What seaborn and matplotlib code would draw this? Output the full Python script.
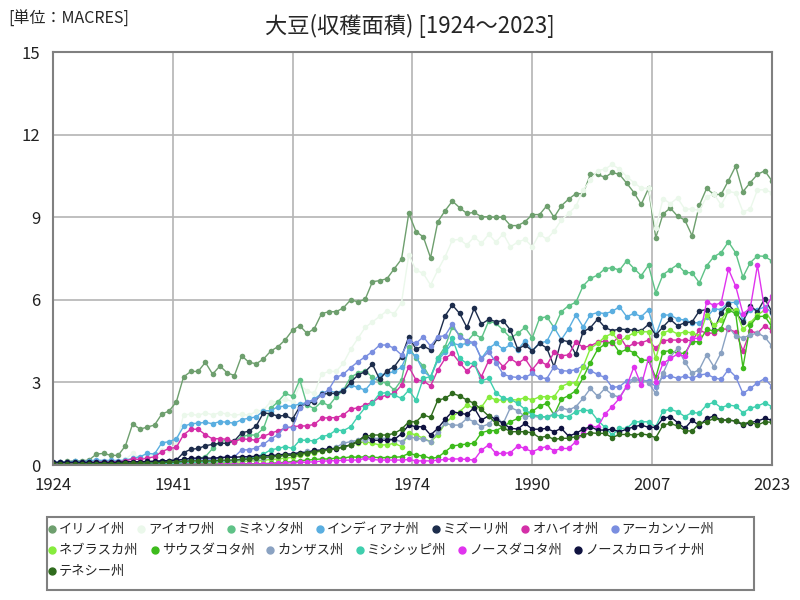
import matplotlib
matplotlib.use('Agg')
import matplotlib.pyplot as plt
from matplotlib.lines import Line2D
from matplotlib.patches import Rectangle
import seaborn as sns
import pandas as pd

YEARS = list(range(1924, 2024))

ILLINOIS = [
    0.08, 0.10, 0.13, 0.15, 0.15, 0.18, 0.40, 0.42, 0.35, 0.35,
    0.70, 1.50, 1.30, 1.38, 1.45, 1.85, 1.96, 2.29, 3.20, 3.40,
    3.40, 3.73, 3.30, 3.60, 3.35, 3.25, 3.97, 3.73, 3.68, 3.85,
    4.14, 4.30, 4.55, 4.90, 5.06, 4.78, 4.96, 5.50, 5.57, 5.57,
    5.71, 6.00, 5.93, 6.02, 6.66, 6.70, 6.77, 7.13, 7.48, 9.14,
    8.48, 8.29, 7.53, 8.84, 9.24, 9.59, 9.35, 9.14, 9.18, 9.02,
    9.02, 9.00, 9.00, 8.70, 8.70, 8.84, 9.10, 9.10, 9.42, 9.00,
    9.42, 9.66, 9.86, 9.86, 10.56, 10.56, 10.45, 10.63, 10.56, 10.24,
    9.90, 9.47, 10.05, 8.26, 9.12, 9.34, 9.04, 8.90, 8.33, 9.44,
    10.05, 9.83, 9.83, 10.33, 10.86, 9.93, 10.26, 10.56, 10.69, 10.32,
]
IOWA = [
    0.03, 0.04, 0.05, 0.05, 0.05, 0.06, 0.10, 0.10, 0.10, 0.12,
    0.20, 0.43, 0.25, 0.30, 0.35, 0.55, 0.55, 0.75, 1.82, 1.85,
    1.80, 1.90, 1.82, 1.90, 1.85, 1.80, 1.85, 1.80, 1.95, 2.00,
    2.30, 2.30, 2.40, 2.30, 2.90, 2.70, 2.60, 3.30, 3.40, 3.40,
    3.70, 4.20, 4.60, 5.00, 5.20, 5.40, 5.60, 5.50, 5.90, 7.63,
    7.08, 6.96, 6.54, 7.08, 7.57, 8.17, 8.20, 7.99, 8.29, 8.05,
    8.38, 8.10, 8.40, 7.93, 8.10, 8.20, 7.93, 8.40, 8.20, 8.50,
    8.90, 9.14, 9.40, 9.99, 10.35, 10.70, 10.75, 10.92, 10.75, 10.48,
    10.26, 10.06, 10.06, 8.60, 9.68, 9.50, 9.70, 9.30, 9.30, 9.25,
    9.75, 9.85, 9.45, 9.94, 9.89, 9.20, 9.30, 10.00, 10.00, 9.90,
]
MINNESOTA = [
    0.01, 0.01, 0.01, 0.01, 0.01, 0.01, 0.02, 0.02, 0.02, 0.02,
    0.03, 0.05, 0.05, 0.06, 0.07, 0.10, 0.12, 0.15, 0.20, 0.22,
    0.24, 0.30, 0.60, 0.85, 0.90, 0.85, 1.03, 1.09, 1.09, 1.33,
    2.06, 2.30, 2.60, 2.50, 3.09, 2.18, 2.05, 2.30, 2.15, 2.48,
    2.72, 3.20, 3.33, 3.43, 3.18, 3.03, 2.97, 2.72, 3.09, 4.30,
    3.87, 3.60, 3.15, 3.90, 4.30, 5.02, 4.72, 4.48, 4.78, 4.60,
    5.23, 5.15, 4.90, 4.62, 4.78, 5.00, 4.62, 5.33, 5.39, 4.99,
    5.57, 5.79, 5.91, 6.51, 6.78, 6.90, 7.13, 7.17, 7.08, 7.42,
    7.14, 6.88, 7.26, 6.26, 6.92, 7.10, 7.28, 7.00, 6.98, 6.62,
    7.24, 7.57, 7.72, 8.11, 7.71, 6.83, 7.35, 7.60, 7.58, 7.41,
]
INDIANA = [
    0.10, 0.10, 0.12, 0.13, 0.12, 0.15, 0.18, 0.16, 0.17, 0.16,
    0.18, 0.24, 0.30, 0.42, 0.40, 0.80, 0.85, 0.95, 1.40, 1.50,
    1.52, 1.55, 1.50, 1.58, 1.55, 1.52, 1.65, 1.70, 1.75, 1.97,
    1.97, 2.12, 2.14, 2.14, 2.22, 2.26, 2.40, 2.60, 2.70, 2.63,
    2.72, 2.90, 2.82, 2.72, 3.03, 3.27, 3.30, 3.41, 3.55, 4.15,
    3.95, 3.40, 3.20, 3.80, 4.10, 4.42, 4.36, 4.42, 4.44, 3.87,
    4.24, 4.42, 4.20, 4.38, 4.18, 4.52, 4.15, 4.44, 4.49, 5.00,
    4.56, 4.95, 5.45, 5.02, 5.46, 5.54, 5.50, 5.58, 5.75, 5.39,
    5.51, 5.39, 5.64, 4.72, 5.45, 5.45, 5.30, 5.27, 5.17, 5.17,
    5.36, 5.67, 5.65, 5.90, 5.91, 5.27, 5.65, 5.63, 5.75, 5.53,
]
MISSOURI = [
    0.05, 0.05, 0.06, 0.06, 0.06, 0.07, 0.08, 0.08, 0.08, 0.08,
    0.10, 0.12, 0.10, 0.12, 0.12, 0.15, 0.15, 0.18, 0.45, 0.57,
    0.60, 0.70, 0.75, 0.79, 0.79, 0.88, 1.17, 1.23, 1.42, 1.90,
    1.85, 1.78, 1.80, 1.67, 2.12, 2.24, 2.30, 2.57, 2.60, 2.60,
    2.69, 3.00, 3.27, 3.39, 3.66, 3.11, 3.43, 3.57, 3.93, 4.66,
    4.21, 4.33, 4.18, 4.62, 5.42, 5.81, 5.51, 5.00, 5.69, 5.12,
    5.29, 5.21, 5.24, 4.90, 4.21, 4.36, 4.15, 4.42, 4.25, 3.57,
    4.54, 4.48, 4.02, 4.84, 4.99, 5.30, 5.00, 4.88, 4.94, 4.92,
    4.90, 4.88, 5.11, 4.72, 5.02, 5.29, 5.06, 5.17, 5.20, 5.60,
    5.65, 4.90, 5.53, 5.84, 5.54, 5.20, 5.79, 5.57, 6.04, 5.56,
]
OHIO = [
    0.05, 0.05, 0.06, 0.06, 0.07, 0.08, 0.10, 0.10, 0.10, 0.12,
    0.15, 0.22, 0.20, 0.25, 0.30, 0.48, 0.60, 0.64, 1.10, 1.30,
    1.30, 1.10, 0.95, 0.96, 0.93, 0.85, 0.95, 0.93, 0.90, 1.05,
    1.15, 1.25, 1.33, 1.39, 1.42, 1.42, 1.48, 1.70, 1.72, 1.72,
    1.82, 2.03, 2.08, 2.18, 2.28, 2.46, 2.54, 2.60, 2.90, 3.57,
    3.09, 3.06, 2.87, 3.45, 3.87, 4.06, 3.72, 3.41, 3.67, 3.21,
    3.79, 3.87, 3.57, 3.87, 3.69, 3.87, 3.47, 3.79, 3.63, 4.09,
    3.97, 4.00, 4.48, 4.27, 4.33, 4.46, 4.50, 4.42, 4.69, 4.27,
    4.42, 4.44, 4.54, 4.24, 4.52, 4.54, 4.54, 4.54, 4.52, 4.90,
    4.78, 4.80, 4.94, 4.94, 4.83, 4.15, 4.87, 4.79, 5.06, 4.88,
]
ARKANSAS = [
    0.02, 0.02, 0.02, 0.02, 0.02, 0.03, 0.03, 0.03, 0.03, 0.03,
    0.04, 0.05, 0.05, 0.05, 0.06, 0.08, 0.08, 0.10, 0.15, 0.18,
    0.18, 0.18, 0.20, 0.25, 0.30, 0.30, 0.55, 0.55, 0.62, 0.75,
    0.95, 1.10, 1.40, 1.35, 2.06, 2.30, 2.36, 2.54, 2.75, 3.18,
    3.30, 3.54, 3.75, 3.93, 4.12, 4.36, 4.36, 4.24, 4.00, 4.50,
    4.42, 4.66, 4.32, 4.66, 4.70, 5.12, 4.66, 4.52, 4.44, 3.85,
    4.12, 3.72, 3.30, 3.21, 3.18, 3.18, 3.33, 3.18, 3.14, 3.57,
    3.43, 3.41, 3.47, 3.60, 3.43, 3.29, 3.18, 2.82, 2.85, 3.06,
    3.11, 3.06, 3.06, 2.85, 3.23, 3.23, 3.15, 3.23, 3.15, 3.27,
    3.31, 3.17, 3.11, 3.47, 3.21, 2.60, 2.78, 2.99, 3.14, 2.85,
]
NEBRASKA = [
    0.01, 0.01, 0.01, 0.01, 0.01, 0.01, 0.01, 0.01, 0.01, 0.01,
    0.01, 0.01, 0.01, 0.01, 0.01, 0.02, 0.02, 0.03, 0.05, 0.06,
    0.06, 0.06, 0.07, 0.08, 0.10, 0.10, 0.12, 0.15, 0.15, 0.17,
    0.20, 0.22, 0.25, 0.28, 0.35, 0.40, 0.45, 0.50, 0.55, 0.60,
    0.65, 0.73, 0.80, 0.85, 0.79, 0.73, 0.73, 0.79, 0.67, 1.17,
    1.09, 0.97, 0.85, 1.09, 1.51, 1.76, 1.94, 2.18, 2.06, 2.10,
    2.48, 2.36, 2.36, 2.38, 2.36, 2.45, 2.36, 2.48, 2.48, 2.48,
    2.85, 2.97, 2.99, 3.57, 4.24, 4.42, 4.66, 4.78, 4.48, 4.66,
    4.80, 4.84, 4.84, 3.87, 4.80, 4.90, 4.76, 4.84, 4.80, 4.70,
    5.45, 5.08, 5.27, 5.65, 5.63, 4.93, 5.17, 5.45, 5.63, 5.20,
]
SOUTH_DAKOTA = [
    0.00, 0.00, 0.00, 0.00, 0.00, 0.00, 0.00, 0.00, 0.00, 0.00,
    0.00, 0.00, 0.00, 0.01, 0.01, 0.01, 0.01, 0.01, 0.02, 0.02,
    0.02, 0.02, 0.02, 0.03, 0.03, 0.03, 0.04, 0.04, 0.05, 0.05,
    0.06, 0.08, 0.10, 0.12, 0.15, 0.18, 0.20, 0.22, 0.22, 0.25,
    0.25, 0.30, 0.28, 0.30, 0.28, 0.27, 0.27, 0.28, 0.30, 0.42,
    0.36, 0.33, 0.24, 0.28, 0.48, 0.69, 0.73, 0.76, 0.79, 1.17,
    1.25, 1.25, 1.39, 1.57, 1.69, 1.85, 1.95, 2.14, 2.24, 1.82,
    2.39, 2.52, 2.70, 3.18, 3.72, 4.20, 4.39, 4.48, 4.09, 4.20,
    4.08, 3.81, 3.81, 3.18, 4.12, 4.15, 4.06, 4.06, 4.48, 4.48,
    4.93, 4.87, 4.96, 5.63, 5.51, 3.54, 5.08, 5.39, 5.41, 5.02,
]
KANSAS = [
    0.01, 0.01, 0.01, 0.01, 0.01, 0.01, 0.02, 0.02, 0.02, 0.02,
    0.02, 0.03, 0.03, 0.03, 0.04, 0.05, 0.05, 0.06, 0.08, 0.09,
    0.10, 0.12, 0.12, 0.14, 0.15, 0.15, 0.18, 0.20, 0.22, 0.25,
    0.28, 0.32, 0.36, 0.40, 0.45, 0.50, 0.50, 0.55, 0.57, 0.65,
    0.79, 0.85, 0.90, 0.92, 0.97, 0.97, 0.97, 0.92, 0.85, 1.03,
    0.97, 0.93, 0.85, 1.21, 1.51, 1.45, 1.45, 1.69, 1.57, 1.39,
    1.49, 1.76, 1.51, 2.09, 1.97, 1.76, 1.78, 1.73, 1.76, 1.85,
    2.08, 2.00, 2.12, 2.42, 2.78, 2.50, 2.78, 2.55, 2.46, 2.85,
    3.11, 3.12, 2.99, 2.60, 3.33, 3.93, 4.24, 3.75, 3.33, 3.47,
    4.00, 3.57, 4.08, 5.02, 4.69, 4.62, 4.72, 4.80, 4.65, 4.32,
]
MISSISSIPPI = [
    0.02, 0.02, 0.02, 0.02, 0.02, 0.03, 0.03, 0.03, 0.03, 0.03,
    0.04, 0.04, 0.05, 0.05, 0.05, 0.06, 0.06, 0.07, 0.08, 0.09,
    0.10, 0.10, 0.12, 0.15, 0.15, 0.18, 0.22, 0.25, 0.30, 0.40,
    0.55, 0.60, 0.67, 0.60, 0.90, 0.90, 0.87, 1.03, 1.09, 1.27,
    1.25, 1.39, 1.76, 2.09, 2.26, 2.60, 2.63, 2.54, 2.42, 2.72,
    2.36, 3.15, 3.21, 3.87, 4.18, 4.60, 3.87, 3.69, 3.69, 3.06,
    3.15, 2.63, 2.42, 2.39, 2.24, 2.02, 1.82, 1.78, 1.73, 1.82,
    1.78, 1.76, 1.94, 2.00, 1.97, 1.63, 1.37, 1.09, 1.33, 1.33,
    1.57, 1.57, 1.57, 1.39, 1.97, 2.02, 1.94, 1.76, 1.91, 1.88,
    2.18, 2.28, 2.08, 2.18, 2.14, 1.90, 2.06, 2.14, 2.26, 2.12,
]
NORTH_DAKOTA = [
    0.00, 0.00, 0.00, 0.00, 0.00, 0.00, 0.00, 0.00, 0.00, 0.00,
    0.00, 0.00, 0.00, 0.00, 0.00, 0.01, 0.01, 0.01, 0.02, 0.02,
    0.02, 0.02, 0.02, 0.02, 0.03, 0.03, 0.03, 0.04, 0.04, 0.05,
    0.05, 0.06, 0.07, 0.08, 0.10, 0.10, 0.12, 0.14, 0.15, 0.16,
    0.17, 0.18, 0.18, 0.24, 0.20, 0.18, 0.18, 0.18, 0.18, 0.20,
    0.15, 0.15, 0.15, 0.18, 0.20, 0.22, 0.22, 0.20, 0.18, 0.54,
    0.73, 0.42, 0.42, 0.45, 0.69, 0.60, 0.48, 0.60, 0.67, 0.52,
    0.60, 0.60, 0.85, 1.15, 1.42, 1.37, 1.85, 2.12, 2.42, 2.87,
    3.57, 2.90, 3.87, 3.03, 3.69, 3.87, 4.03, 3.95, 4.60, 4.60,
    5.93, 5.80, 5.90, 7.12, 6.50, 5.50, 5.69, 7.26, 5.63, 6.14,
]
NORTH_CAROLINA = [
    0.10, 0.10, 0.10, 0.10, 0.10, 0.10, 0.10, 0.10, 0.10, 0.10,
    0.12, 0.12, 0.12, 0.13, 0.14, 0.15, 0.16, 0.18, 0.20, 0.25,
    0.25, 0.25, 0.25, 0.27, 0.28, 0.28, 0.30, 0.30, 0.32, 0.33,
    0.35, 0.36, 0.40, 0.40, 0.45, 0.45, 0.54, 0.54, 0.60, 0.58,
    0.67, 0.73, 0.85, 1.09, 0.90, 0.90, 0.90, 0.93, 1.13, 1.45,
    1.39, 1.39, 1.09, 1.33, 1.66, 1.94, 1.88, 1.84, 2.08, 1.63,
    1.79, 1.66, 1.51, 1.33, 1.31, 1.51, 1.30, 1.30, 1.33, 1.21,
    1.33, 1.05, 1.15, 1.30, 1.39, 1.27, 1.27, 1.30, 1.21, 1.30,
    1.39, 1.45, 1.37, 1.37, 1.69, 1.76, 1.54, 1.33, 1.63, 1.43,
    1.69, 1.78, 1.63, 1.63, 1.60, 1.45, 1.54, 1.60, 1.69, 1.63,
]
TENNESSEE = [
    0.03, 0.03, 0.03, 0.03, 0.04, 0.04, 0.04, 0.05, 0.05, 0.05,
    0.06, 0.06, 0.07, 0.07, 0.08, 0.09, 0.10, 0.11, 0.13, 0.15,
    0.15, 0.15, 0.15, 0.17, 0.18, 0.18, 0.20, 0.22, 0.25, 0.28,
    0.30, 0.32, 0.35, 0.35, 0.40, 0.45, 0.48, 0.52, 0.55, 0.60,
    0.65, 0.73, 0.88, 1.03, 1.09, 1.09, 1.09, 1.15, 1.30, 1.57,
    1.57, 1.82, 1.73, 2.36, 2.42, 2.60, 2.51, 2.36, 2.24, 2.02,
    1.78, 1.51, 1.36, 1.21, 1.21, 1.21, 1.17, 0.99, 1.05, 0.93,
    0.97, 0.97, 1.03, 1.09, 1.17, 1.15, 1.15, 0.99, 1.11, 1.11,
    1.09, 1.13, 1.09, 0.99, 1.45, 1.51, 1.42, 1.25, 1.23, 1.51,
    1.57, 1.69, 1.63, 1.63, 1.60, 1.49, 1.57, 1.45, 1.57, 1.55,
]

STATES = ['イリノイ州', 'アイオワ州', 'ミネソタ州', 'インディアナ州', 'ミズーリ州',
          'オハイオ州', 'アーカンソー州', 'ネブラスカ州', 'サウスダコタ州', 'カンザス州',
          'ミシシッピ州', 'ノースダコタ州', 'ノースカロライナ州', 'テネシー州']
SERIES = [ILLINOIS, IOWA, MINNESOTA, INDIANA, MISSOURI, OHIO, ARKANSAS, NEBRASKA,
          SOUTH_DAKOTA, KANSAS, MISSISSIPPI, NORTH_DAKOTA, NORTH_CAROLINA, TENNESSEE]
COLORS = ['#6e9f6e', '#ebf8eb', '#5fc287', '#5aaee0', '#1d2d4c', '#d42fa8', '#7a8ee0',
          '#86ec3c', '#3dbb1c', '#8aa2c2', '#3fcfae', '#e033ee', '#0f1240', '#2f6b1d']

XTICK_LABELS = ['1924', '1941', '1957', '1974', '1990', '2007', '2023']
YTICKS = [0, 3, 6, 9, 12, 15]

sns.set_theme(style='white')
plt.rcParams['font.family'] = ['Noto Sans CJK JP', 'DejaVu Sans']

df = pd.concat(
    [pd.DataFrame({'year': YEARS, 'value': vals, 'state': name})
     for name, vals in zip(STATES, SERIES)],
    ignore_index=True)

fig = plt.figure(figsize=(8, 6), dpi=100)
ax = fig.add_axes([0.066, 0.225, 0.899, 0.688])

sns.lineplot(data=df, x='year', y='value', hue='state', hue_order=STATES,
             palette=COLORS, marker='o', markersize=4, markeredgewidth=0,
             linewidth=1, legend=False, ax=ax)

ax.set_xlim(1924, 2023)
ax.set_ylim(0, 15)
ax.set_xticks([1924 + 16.5 * i for i in range(7)])
ax.set_xticklabels(XTICK_LABELS)
ax.set_yticks(YTICKS)
ax.set_yticklabels([str(v) for v in YTICKS])
ax.set_xlabel('')
ax.set_ylabel('')
ax.grid(True, color='#b4b4b4', linewidth=1.2)
ax.set_axisbelow(True)
for sp in ax.spines.values():
    sp.set_color('#808080')
    sp.set_linewidth(1.5)
ax.tick_params(axis='x', length=0, labelsize=12, colors='#222222', pad=9)
ax.tick_params(axis='y', length=0, labelsize=12, colors='#222222', pad=9)

fig.text(0.512, 0.957, '大豆(収穫面積) [1924～2023]', ha='center', va='center', fontsize=16)
fig.text(0.010, 0.968, '[単位：MACRES]', ha='left', va='center', fontsize=11.5)

# legend box drawn by hand, rows filled left to right
fig.patches.append(Rectangle((0.059, 0.017), 0.883, 0.122, transform=fig.transFigure,
                             fill=False, edgecolor='#808080', linewidth=1.5))
rows = [(0, 7, 0.117), (7, 13, 0.082), (13, 14, 0.047)]
for start, stop, ypos in rows:
    handles = [Line2D([], [], marker='o', linestyle='none', color=COLORS[i], markersize=5)
               for i in range(start, stop)]
    fig.legend(handles, STATES[start:stop], loc='center left',
               bbox_to_anchor=(0.060, ypos), ncol=stop - start, frameon=False,
               fontsize=9.5, handlelength=0.6, handletextpad=0.25,
               columnspacing=0.9, borderpad=0, borderaxespad=0)

fig.savefig('out.png', dpi=100)
